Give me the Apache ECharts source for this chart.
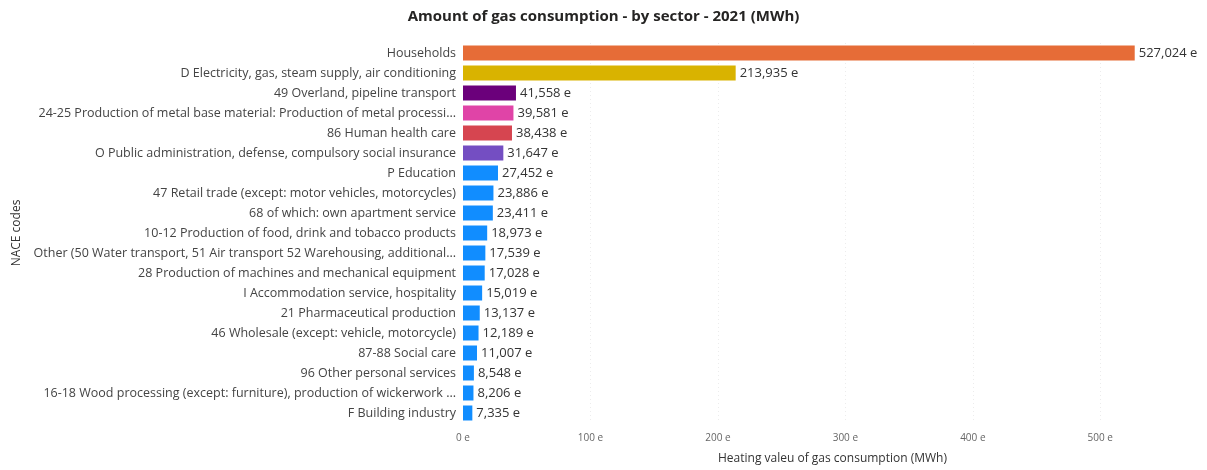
<!DOCTYPE html>
<html>
<head>
<meta charset="utf-8">
<script src="https://cdn.jsdelivr.net/npm/echarts@6/dist/echarts.min.js"></script>
<style>
    html, body { margin: 0; padding: 0; background: #fff; }
    #chart { width: 1207px; height: 470px; }
</style>
</head>
<body>
<div id="chart"></div>
<script>
// Sectors, top to bottom
const sectors = [
    'Households',
    'D Electricity, gas, steam supply, air conditioning',
    '49 Overland, pipeline transport',
    '24-25 Production of metal base material: Production of metal processi...',
    '86 Human health care',
    'O Public administration, defense, compulsory social insurance',
    'P Education',
    '47 Retail trade (except: motor vehicles, motorcycles)',
    '68 of which: own apartment service',
    '10-12 Production of food, drink and tobacco products',
    'Other (50 Water transport, 51 Air transport 52 Warehousing, additional...',
    '28 Production of machines and mechanical equipment',
    'I Accommodation service, hospitality',
    '21 Pharmaceutical production',
    '46 Wholesale (except: vehicle, motorcycle)',
    '87-88 Social care',
    '96 Other personal services',
    '16-18 Wood processing (except: furniture), production of wickerwork ...',
    'F Building industry'
];

// Gas consumption (MWh)
const consumption = [
    527024, 213935, 41558, 39581, 38438, 31647, 27452, 23886, 23411,
    18973, 17539, 17028, 15019, 13137, 12189, 11007, 8548, 8206, 7335
];

// Bar colours per sector
const barColors = [
    '#E66C37', '#D9B300', '#6B007B', '#E044A7', '#D64550', '#744EC2',
    '#118DFF', '#118DFF', '#118DFF', '#118DFF', '#118DFF', '#118DFF',
    '#118DFF', '#118DFF', '#118DFF', '#118DFF', '#118DFF', '#118DFF', '#118DFF'
];

const chart = echarts.init(document.getElementById('chart'));
const font = 'Open Sans';

chart.setOption({
    animation: false,
    title: {
        text: 'Amount of gas consumption - by sector - 2021 (MWh)',
        left: 'center',
        top: 4,
        textStyle: { fontFamily: font, fontSize: 15, fontWeight: 'bold', color: '#252423' }
    },
    grid: { left: 463, right: 43, top: 43, bottom: 45 },
    xAxis: {
        type: 'value',
        min: 0,
        max: 550000,
        interval: 100000,
        name: 'Heating valeu of gas consumption (MWh)',
        nameLocation: 'middle',
        nameGap: 30,
        nameTextStyle: { fontFamily: font, fontSize: 12, color: '#333', padding: [0, 0, 0, 38] },
        axisLine: { show: false },
        axisTick: { show: false },
        axisLabel: {
            fontFamily: font, fontSize: 10, color: '#666', margin: 10,
            showMaxLabel: false,
            formatter: v => (v > 500000 ? '' : (v / 1000) + ' e')
        },
        splitLine: {
            showMinLine: false, showMaxLine: false,
            lineStyle: { color: '#ececec', type: [1, 3] }
        }
    },
    yAxis: {
        type: 'category',
        data: sectors,
        inverse: true,
        name: 'NACE codes',
        nameLocation: 'middle',
        nameGap: 440,
        nameTextStyle: { fontFamily: font, fontSize: 12, color: '#333' },
        axisLine: { show: false },
        axisTick: { show: false },
        axisLabel: { fontFamily: font, fontSize: 12.5, color: '#444', margin: 7 }
    },
    series: [{
        type: 'bar',
        data: consumption.map((v, i) => ({ value: v, itemStyle: { color: barColors[i] } })),
        barCategoryGap: '25%',
        label: {
            show: true,
            position: 'right',
            distance: 4,
            fontFamily: font,
            fontSize: 13,
            color: '#333',
            formatter: p => p.value.toLocaleString('en-US') + ' e'
        }
    }]
});
</script>
</body>
</html>
